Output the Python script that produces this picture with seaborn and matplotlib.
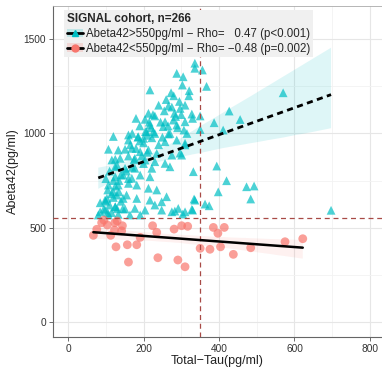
import numpy as np
import pandas as pd
import matplotlib
matplotlib.use("Agg")
import matplotlib.pyplot as plt
import seaborn as sns
from matplotlib.lines import Line2D
from matplotlib.patches import Patch

# ---- data ----
high_x = [336, 356, 336, 288, 305, 217, 273, 303, 321, 367, 266, 297, 282, 328, 350, 213, 204, 230,
          257, 279, 310, 288, 252, 217, 307, 350, 387, 456, 427, 570, 411, 310, 297, 332, 394, 420,
          398, 473, 493, 484, 334, 330, 363, 374, 304, 697, 266, 226, 208, 186, 160, 120, 107, 125,
          151, 160, 200, 222, 257, 288, 310, 133, 169, 191, 213, 235, 275, 301, 116, 138, 177, 204,
          230, 257, 270, 125, 151, 177, 222, 125, 146, 169, 191, 217, 107, 133, 160, 182, 213, 235,
          129, 155, 182, 98, 217, 248, 98, 125, 151, 177, 204, 230, 248, 283, 310, 80, 107, 133,
          164, 191, 85, 103, 120, 146, 261, 85, 275, 292, 328, 336,
          95, 100, 105, 110, 115, 120, 125, 130, 135, 140, 100, 110, 120, 130, 140, 145, 115, 125,
          135, 105,
          155, 160, 165, 170, 175, 180, 185, 190, 195, 200, 205, 210, 215, 160, 170, 180, 190, 200,
          210, 220,
          225, 230, 240, 245, 250, 255, 260, 265, 270, 275, 280, 285, 290, 295, 300, 310, 315, 320,
          330, 240]
high_y = [1373, 1337, 1346, 1319, 1301, 1231, 1216, 1257, 1227, 1250, 1146, 1133, 1107, 1103, 1093,
          1107, 1075, 1093, 1062, 1071, 1062, 1045, 1036, 1045, 1018, 1021, 1057, 1074, 1119, 1216,
          1018, 939, 896, 797, 827, 749, 690, 717, 721, 652, 652, 593, 625, 616, 572, 592, 997, 1009,
          1009, 983, 992, 984, 916, 863, 916, 965, 974, 977, 956, 965, 948, 912, 921, 903, 912, 894,
          885, 885, 859, 868, 868, 859, 850, 841, 823, 823, 815, 815, 815, 770, 779, 762, 779, 770,
          726, 726, 735, 726, 709, 700, 673, 673, 655, 646, 646, 637, 593, 611, 599, 602, 593, 620,
          593, 588, 584, 567, 567, 570, 567, 567, 632, 655, 690, 655, 664, 584, 584, 602, 597, 646,
          600, 640, 700, 620, 580, 660, 720, 600, 690, 640, 760, 800, 750, 830, 780, 600, 680, 610,
          750, 580,
          800, 880, 940, 1000, 860, 920, 980, 1040, 880, 950, 1010, 900, 1060, 760, 820, 1080, 960,
          840, 990, 1030,
          1100, 1000, 1150, 1060, 980, 1120, 1180, 1040, 1000, 1140, 1200, 1090, 1030, 1170, 1100,
          1150, 1000, 1200, 1080, 940]

low_x = [89, 104, 124, 144, 76, 67, 113, 123, 142, 127, 157, 182, 191, 160, 224, 235, 238, 281, 301,
         317, 291, 310, 350, 376, 385, 397, 414, 404, 438, 484, 575, 622, 95, 130]
low_y = [526, 514, 526, 510, 491, 459, 459, 487, 483, 398, 409, 409, 448, 317, 510, 475, 340, 492,
         510, 507, 328, 292, 390, 385, 501, 470, 501, 398, 358, 393, 425, 441, 540, 535]

groups = ["Abeta42>550pg/ml", "Abeta42<550pg/ml"]
legend_labels = ["Abeta42>550pg/ml \u2212 Rho=   0.47 (p<0.001)",
                 "Abeta42<550pg/ml \u2212 Rho= \u22120.48 (p=0.002)"]
legend_title = "SIGNAL cohort, n=266"
x_cut = 350
y_cut = 550
x_ticks = [0, 200, 400, 600, 800]
y_ticks = [0, 500, 1000, 1500]

df = pd.DataFrame({
    "tau": high_x + low_x,
    "abeta": high_y + low_y,
    "group": [groups[0]] * len(high_x) + [groups[1]] * len(low_x),
})

teal = "#00BFC4"
salmon = "#F8766D"

sns.set_theme(style="white")
plt.rcParams["font.family"] = ["Liberation Sans", "DejaVu Sans"]

fig = plt.figure(figsize=(3.82, 3.72), dpi=100)
ax = fig.add_axes([0.1387, 0.094, 0.8613, 0.89])

# grid
for v in [100, 300, 500, 700]:
    ax.axvline(v, color="#F2F2F2", lw=0.6, zorder=0)
for v in x_ticks:
    ax.axvline(v, color="#E6E6E6", lw=0.8, zorder=0)
for v in [250, 750, 1250]:
    ax.axhline(v, color="#F2F2F2", lw=0.6, zorder=0)
for v in y_ticks:
    ax.axhline(v, color="#E6E6E6", lw=0.8, zorder=0)

sns.scatterplot(data=df, x="tau", y="abeta", hue="group", style="group",
                hue_order=groups, style_order=groups,
                palette={groups[0]: teal, groups[1]: salmon},
                markers={groups[0]: "^", groups[1]: "o"},
                s=40, alpha=0.7, linewidth=0, legend=False, ax=ax, zorder=2)

sub_hi = df[df.group == groups[0]]
sub_lo = df[df.group == groups[1]]
n_before = len(ax.collections)
sns.regplot(data=sub_hi, x="tau", y="abeta", scatter=False, ci=95, ax=ax,
            color=teal, line_kws=dict(color="black", lw=2.0, ls=(0, (2.2, 1.6)), zorder=4))
band_hi = ax.collections[n_before:]
n_mid = len(ax.collections)
sns.regplot(data=sub_lo, x="tau", y="abeta", scatter=False, ci=95, ax=ax,
            color=salmon, line_kws=dict(color="black", lw=1.8, zorder=4))
band_lo = ax.collections[n_mid:]
for c in band_hi:
    c.set_facecolor(teal)
    c.set_alpha(0.13)
    c.set_edgecolor("none")
for c in band_lo:
    c.set_facecolor(salmon)
    c.set_alpha(0.1)
    c.set_edgecolor("none")

ax.axhline(y_cut, color="#A84A46", lw=0.9, ls=(0, (4, 3)), zorder=3)
ax.axvline(x_cut, color="#A84A46", lw=0.9, ls=(0, (4, 3)), zorder=3)

ax.set_xlim(-40, 832)
ax.set_ylim(-81, 1677)
ax.set_xticks(x_ticks)
ax.set_yticks(y_ticks)
ax.set_xticklabels([str(v) for v in x_ticks], fontsize=7.3, color="#333333")
ax.set_yticklabels([str(v) for v in y_ticks], fontsize=7.3, color="#333333")
ax.tick_params(axis="both", length=3, width=0.6, color="#555555", pad=2, bottom=True, left=True)
ax.set_xlabel("Total\u2212Tau(pg/ml)", fontsize=9, color="#222222", labelpad=1)
ax.set_ylabel("Abeta42(pg/ml)", fontsize=9, color="#222222", labelpad=3)

for side in ["left", "bottom"]:
    ax.spines[side].set_color("#666666")
    ax.spines[side].set_linewidth(0.8)
ax.spines["top"].set_color("#AAAAAA")
ax.spines["top"].set_linewidth(0.6)
ax.spines["right"].set_visible(False)

handles = [
    (Patch(facecolor=teal, alpha=0.2, edgecolor="none"),
     Line2D([], [], color="black", lw=2),
     Line2D([], [], marker="^", color=teal, ls="none", markersize=5)),
    (Patch(facecolor=salmon, alpha=0.2, edgecolor="none"),
     Line2D([], [], color="black", lw=2),
     Line2D([], [], marker="o", color=salmon, ls="none", markersize=5)),
]
leg = ax.legend(handles, legend_labels, title=legend_title, loc="upper left",
                bbox_to_anchor=(0.027, 0.995), frameon=True, fontsize=8.3,
                title_fontsize=8.5, handlelength=1.4, handletextpad=0.25,
                borderpad=0.25, labelspacing=0.25, borderaxespad=0.2)
leg.get_title().set_fontweight("bold")
leg._legend_box.align = "left"
leg.get_frame().set_facecolor("#F0F0F0")
leg.get_frame().set_edgecolor("none")
leg.get_frame().set_alpha(1)
leg.get_frame().set_boxstyle("square", pad=0)
leg.set_zorder(6)

fig.savefig("out.png", dpi=100)
